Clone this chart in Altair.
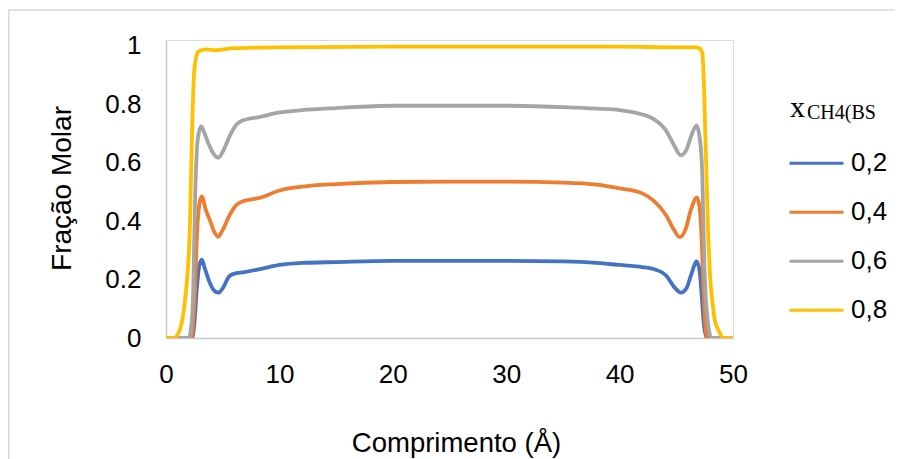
import altair as alt
import pandas as pd

# Series labels and colours
categories = ["0,2", "0,4", "0,6", "0,8"]
colors = ["#4472C4", "#ED7D31", "#A5A5A5", "#FFC000"]

# x_CH4(BS) = 0,2
x_02 = [0, 2.3, 2.5, 2.7, 2.9, 3.15, 3.45, 3.85, 4.25, 4.6, 5.0, 5.6, 6.2, 6.8, 8.3, 10, 12, 15, 20, 25, 30, 35, 38, 40, 42, 43, 44.1, 44.8, 45.4, 45.9, 46.3, 46.8, 47.05, 47.25, 47.45, 47.7, 50]
y_02 = [0, 0, 0.05, 0.16, 0.24, 0.268, 0.235, 0.19, 0.162, 0.155, 0.17, 0.212, 0.222, 0.225, 0.236, 0.25, 0.257, 0.26, 0.264, 0.264, 0.264, 0.262, 0.257, 0.25, 0.243, 0.236, 0.214, 0.175, 0.155, 0.17, 0.215, 0.262, 0.23, 0.14, 0.04, 0, 0]

# x_CH4(BS) = 0,4
x_04 = [0, 2.2, 2.4, 2.55, 2.75, 2.95, 3.15, 3.5, 3.9, 4.3, 4.6, 5.0, 5.6, 6.2, 6.8, 8.3, 10, 12, 15, 20, 25, 30, 35, 38, 40, 42, 43, 44.1, 44.8, 45.3, 45.8, 46.3, 46.8, 47.0, 47.2, 47.35, 47.5, 47.75, 50]
y_04 = [0, 0, 0.05, 0.16, 0.37, 0.46, 0.485, 0.44, 0.40, 0.36, 0.347, 0.37, 0.42, 0.455, 0.468, 0.48, 0.505, 0.518, 0.527, 0.534, 0.535, 0.535, 0.532, 0.525, 0.512, 0.495, 0.47, 0.42, 0.37, 0.345, 0.37, 0.44, 0.48, 0.46, 0.37, 0.22, 0.08, 0, 0]

# x_CH4(BS) = 0,6
x_06 = [0, 2.0, 2.25, 2.4, 2.55, 2.8, 3.1, 3.4, 3.7, 4.2, 4.6, 5.1, 5.6, 6.2, 6.8, 8.3, 10, 12, 15, 20, 25, 30, 35, 38, 40, 42, 42.9, 44.1, 44.8, 45.4, 45.9, 46.3, 46.8, 47.0, 47.25, 47.5, 47.8, 48.1, 50]
y_06 = [0, 0, 0.05, 0.16, 0.45, 0.68, 0.725, 0.70, 0.67, 0.63, 0.617, 0.645, 0.69, 0.73, 0.745, 0.757, 0.772, 0.78, 0.787, 0.795, 0.795, 0.795, 0.79, 0.785, 0.78, 0.765, 0.752, 0.71, 0.66, 0.626, 0.645, 0.69, 0.728, 0.70, 0.60, 0.22, 0.05, 0, 0]

# x_CH4(BS) = 0,8
x_08 = [0, 0.8, 1.08, 1.38, 1.59, 1.76, 2.1, 2.3, 2.5, 2.85, 3.5, 4.4, 6, 10, 20, 30, 40, 45, 46.8, 47.1, 47.3, 47.45, 47.55, 47.8, 48.0, 48.2, 48.4, 48.8, 49.1, 50]
y_08 = [0, 0, 0.016, 0.05, 0.10, 0.16, 0.37, 0.71, 0.92, 0.98, 0.988, 0.985, 0.992, 0.995, 0.997, 0.997, 0.997, 0.995, 0.995, 0.99, 0.975, 0.85, 0.71, 0.37, 0.2, 0.12, 0.06, 0.02, 0, 0]

x_ticks = [0, 10, 20, 30, 40, 50]
y_ticks = [0, 0.2, 0.4, 0.6, 0.8, 1]

series = [(categories[0], x_02, y_02), (categories[1], x_04, y_04),
          (categories[2], x_06, y_06), (categories[3], x_08, y_08)]
rows = []
for order, (name, xs, ys) in enumerate(series):
    for xv, yv in zip(xs, ys):
        rows.append({"serie": name, "ordem": order, "comprimento": xv, "fracao": yv})
df = pd.DataFrame(rows)

FONT = "Liberation Sans"
SERIF = "Liberation Serif"

lines = alt.Chart(df).mark_line(strokeWidth=3.8, interpolate="monotone", clip=True).encode(
    x=alt.X("comprimento:Q",
            scale=alt.Scale(domain=[0, 50], nice=False, zero=False),
            axis=alt.Axis(values=x_ticks, title="Comprimento (Å)", grid=False, ticks=False, tickSize=0,
                          labelFlush=False,
                          labelFontSize=26, labelFont=FONT, labelColor="#000000", labelPadding=23,
                          domainColor="#c9c9c9", domainWidth=1.5,
                          titleFont=FONT, titleFontSize=27.5, titleFontWeight="normal", titleColor="#000000",
                          titleBaseline="alphabetic", titleX=290, titleY=113)),
    y=alt.Y("fracao:Q",
            scale=alt.Scale(domain=[0, 1.02], nice=False),
            axis=alt.Axis(values=y_ticks, format="~g", title="Fração Molar", grid=False, ticks=False, tickSize=0,
                          labelFlush=False,
                          labelFontSize=26, labelFont=FONT, labelColor="#000000", labelPadding=25,
                          domainColor="#c9c9c9", domainWidth=1.5,
                          titleFont=FONT, titleFontSize=28, titleFontWeight="normal", titleColor="#000000",
                          titleBaseline="alphabetic", titleX=-96, titleY=148, titleAlign="center")),
    color=alt.Color("serie:N",
                    scale=alt.Scale(domain=categories, range=colors),
                    legend=alt.Legend(orient="none", legendX=622, legendY=99, title=None,
                                      symbolType="stroke", symbolSize=2916, symbolStrokeWidth=3,
                                      labelFontSize=26, labelFont=FONT, labelColor="#000000",
                                      labelOffset=6, rowPadding=0, clipHeight=48.7)),
    order=alt.Order("ordem:Q"),
    detail="serie:N",
)

title_df = pd.DataFrame({"t": ["x"]})
leg_x = alt.Chart(title_df).mark_text(font=SERIF, fontSize=30, align="left", baseline="alphabetic",
                                      color="#000000").encode(
    x=alt.value(624), y=alt.value(77), text="t:N")
leg_sub = alt.Chart(pd.DataFrame({"t": ["CH4(BS"]})).mark_text(font=SERIF, fontSize=20, align="left",
                                                             baseline="alphabetic", color="#000000").encode(
    x=alt.value(641), y=alt.value(78.5), text="t:N")

border_left = alt.Chart(title_df).mark_rule(color="#d9d9d9", strokeWidth=1.5).encode(
    x=alt.value(-157.3), y=alt.value(-30), y2=alt.value(420))
border_top = alt.Chart(title_df).mark_rule(color="#d9d9d9", strokeWidth=1.5).encode(
    x=alt.value(-158), x2=alt.value(760), y=alt.value(-30))

chart = alt.layer(border_left, border_top, lines, leg_x, leg_sub).properties(
    width=567, height=298,
    autosize=alt.AutoSizeParams(type="none"),
    padding={"left": 158, "top": 32, "right": 162, "bottom": 121},
).configure_view(stroke=None).configure(background="white")

chart.save("out.html", embed_options={"renderer": "svg", "actions": False})
